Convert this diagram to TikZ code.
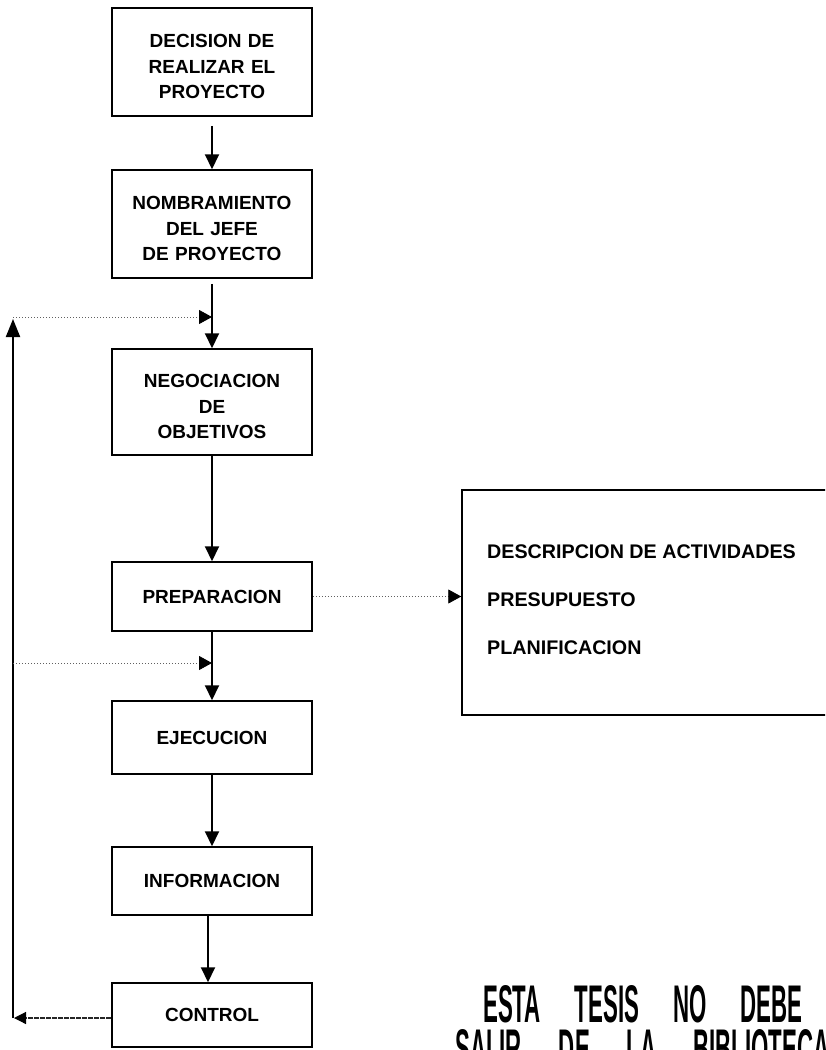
\documentclass[tikz,border=0pt]{standalone}
\usepackage{fontspec}
\setmainfont{Liberation Sans}
\usetikzlibrary{arrows.meta}
\newcommand\diagfont{\fontsize{19}{25.5}\selectfont\bfseries}
\newcommand\listfont{\fontsize{19.7}{48}\selectfont\bfseries}
\newcommand\stampfont{\fontsize{53}{53}\selectfont\bfseries}
% extra height on the first line drops a multi-line label a little
\newcommand\droptext{\rule{0pt}{23pt}}
\begin{document}
\begin{tikzpicture}[x=1pt,y=-1pt,
  stage/.style={draw,line width=1.5pt,minimum width=200pt,text width=192pt,
    align=center,font=\diagfont,inner sep=0pt},
  flow/.style={line width=2pt,-{Triangle[width=14pt,length=15pt]}},
  feed/.style={line width=0.9pt,gray!75!black,dash pattern=on 1.2pt off 1.8pt,
    -{Triangle[width=14pt,length=13pt,color=black]}},
  back/.style={line width=1.2pt,black!85,dash pattern=on 5pt off 1pt,
    -{Triangle[width=12pt,length=12pt,color=black]}},
  loop/.style={line width=2pt,-{Triangle[width=14pt,length=18pt]}},
]
\useasboundingbox (0,0) rectangle (825,1050);
\clip (0,0) rectangle (825,1050);
\fill[white] (0,0) rectangle (825,1050);

% main sequence of stages
\node[stage,minimum height=108pt] (b1) at (212,62)
  {\droptext DECISION DE\\REALIZAR EL\\PROYECTO};
\node[stage,minimum height=108pt] (b2) at (212,224)
  {\droptext NOMBRAMIENTO\\DEL JEFE\\DE PROYECTO};
\node[stage,minimum height=106pt] (b3) at (212,402)
  {\droptext NEGOCIACION\\DE\\OBJETIVOS};
\node[stage,minimum height=69pt] (b4) at (212,596.5) {PREPARACION};
\node[stage,minimum height=73pt] (b5) at (212,737.5) {EJECUCION};
\node[stage,minimum height=68pt] (b6) at (212,881) {INFORMACION};
\node[stage,minimum height=64pt] (b7) at (212,1015) {CONTROL};

% detail box of the preparation stage
\node[draw,line width=1.5pt,minimum width=380pt,minimum height=225pt,inner sep=0pt]
  (plan) at (652,602.5) {};
\node[anchor=west,align=left,font=\listfont,inner sep=0pt] (items) at (487,600)
  {DESCRIPCION DE ACTIVIDADES\\PRESUPUESTO\\PLANIFICACION};

% arrows between stages
\draw[flow] ([yshift=-9pt]b1.south) -- (b2.north);
\draw[flow] ([yshift=-5pt]b2.south) -- (b3.north);
\draw[flow] (b3.south) -- (b4.north);
\draw[flow] (b4.south) -- (b5.north);
\draw[flow] (b5.south) -- (b6.north);
\draw[flow] ([xshift=-4pt]b6.south) -- ([xshift=-4pt]b7.north);

% feedback loop
\coordinate (lx) at (13,0);
\coordinate (fbTop) at (13,317);
\coordinate (fbMid) at (13,663);
\coordinate (in1) at (212,317);
\coordinate (in2) at (212,663);
\coordinate (fbBot) at ([yshift=-3pt]b7.west -| lx);
\draw[back] ([yshift=-3pt]b7.west) -- ([xshift=1pt]fbBot);
\draw[loop] (fbBot) -- ([yshift=-2pt]fbTop);
\draw[feed] (fbTop) -- (in1);
\draw[feed] (fbMid) -- (in2);
\draw[feed] (b4.east) -- (b4.east -| plan.west);

% library stamp
\node[anchor=base west,inner sep=0pt,font=\stampfont] (stamp1) at (483,1022)
  {\scalebox{0.42}[1]{\spaceskip=81pt ESTA TESIS NO DEBE}};
\node[anchor=base west,inner sep=0pt,font=\stampfont] (stamp2) at (455,1066)
  {\scalebox{0.42}[1]{\spaceskip=88pt SALIR DE LA BIBLIOTECA}};
\end{tikzpicture}
\end{document}
